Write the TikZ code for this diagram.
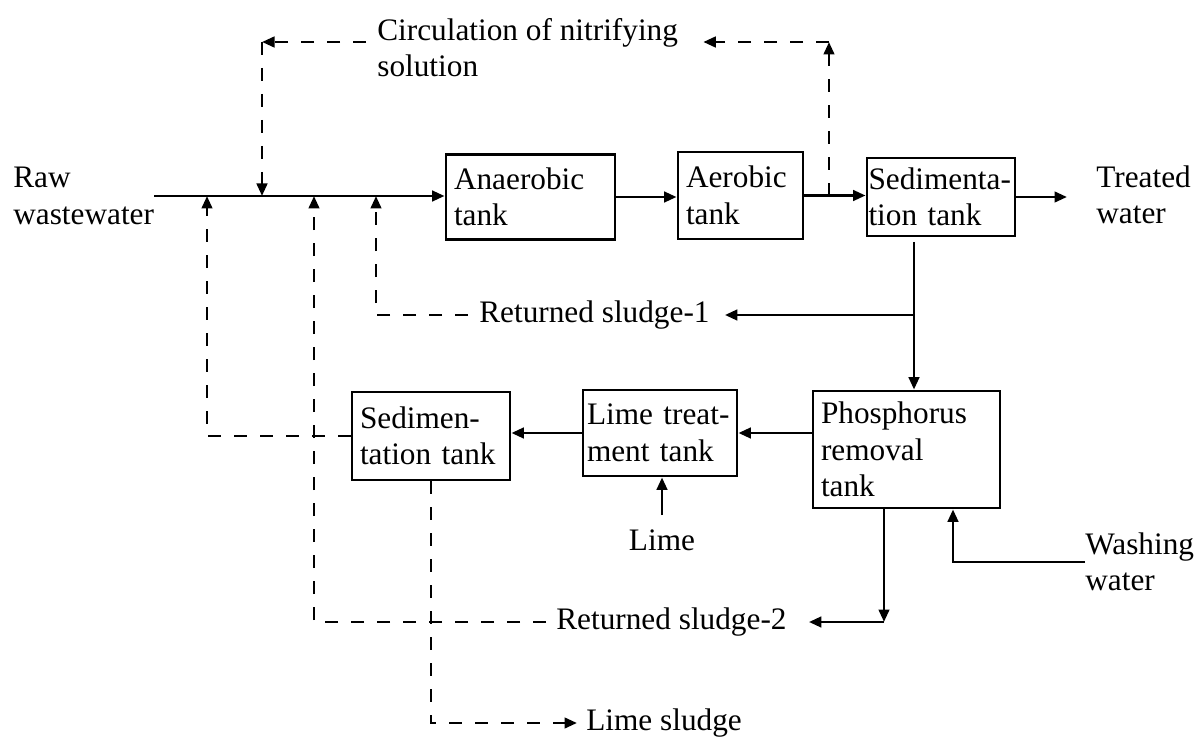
\documentclass[tikz,border=0pt]{standalone}
\usepackage{fontspec}
\setmainfont{Liberation Serif}
\usetikzlibrary{arrows.meta,calc}

\begin{document}
\begin{tikzpicture}[
    >={Triangle[length=2.5mm,width=2.1mm]},
    font=\fontsize{17.8}{20.8}\selectfont,
    % --- process tanks -----------------------------------------------
    tank/.style={draw,line width=1.6pt,align=left,inner xsep=0.16cm,
                 inner ysep=0pt,anchor=center},
    % --- connectors --------------------------------------------------
    flow/.style={line width=1.6pt,->},
    ret/.style={line width=1.6pt,dash pattern=on 2.6mm off 2.6mm},
    % --- free labels -------------------------------------------------
    lbl/.style={inner sep=0pt,align=left,anchor=west},
  ]

\useasboundingbox (0,0) rectangle (24.06,-14.84);

% =====================================================================
%  Tanks
% =====================================================================
\node[tank,text width=3.06cm,minimum height=1.70cm] (anaerobic) at (10.61,-3.94)
     {Anaerobic\\tank};
\node[tank,text width=2.18cm,minimum height=1.74cm] (aerobic) at (14.81,-3.91)
     {Aerobic\\tank};
\node[tank,text width=2.90cm,inner xsep=0.03cm,minimum height=1.56cm] (sedtop) at (18.82,-3.94)
     {Sedimenta-\\tion tank};
\node[tank,text width=3.42cm,minimum height=2.34cm] (phos) at (18.13,-8.99)
     {Phosphorus\\removal\\tank};
\node[tank,text width=2.92cm,inner xsep=0.08cm,minimum height=1.72cm] (limebox) at (13.20,-8.66)
     {Lime treat-\\ment tank};
\node[tank,text width=2.84cm,minimum height=1.76cm] (sedlow) at (8.62,-8.72)
     {Sedimen-\\tation tank};

% =====================================================================
%  Labels
% =====================================================================
\node[lbl] (raw) at (0.26,-3.92) {Raw\\wastewater};
\node[lbl] (treated) at (21.92,-3.90) {Treated\\water};
\node[lbl] (circ) at (7.54,-0.95) {Circulation of nitrifying\\solution};
\node[lbl] (rs1) at (9.58,-6.30) {Returned sludge-1};
\node[lbl] (rs2) at (11.12,-12.44) {Returned sludge-2};
\node[lbl] (wash) at (21.70,-11.24) {Washing\\water};
\node[inner sep=0pt] (limein) at (13.24,-10.80) {Lime};
\node[lbl] (ls) at (11.72,-14.46) {Lime sludge};

% ---- junctions on the inflow line -----------------------------------
\coordinate (j1) at (4.14,-3.92);
\coordinate (j2) at (5.24,-3.92);
\coordinate (j3) at (6.28,-3.92);
\coordinate (j4) at (7.52,-3.92);

% =====================================================================
%  Main line
% =====================================================================
\draw[flow] (raw.east) -- (raw.east -| anaerobic.west);
\draw[flow] (anaerobic.east) -- (anaerobic.east -| aerobic.west);
\draw[flow] (aerobic.east) -- (aerobic.east -| sedtop.west);
\draw[flow,shorten >=0.58cm] (sedtop.east) -- (sedtop.east -| treated.west);

% ---- nitrifying solution loop ---------------------------------------
\coordinate (nl) at (5.24,-0.84);
\coordinate (nr) at (16.58,-0.84);
\coordinate (ctop) at (16.58,-3.92);
\draw[ret,->,shorten <=0.22cm] (circ.west |- nl) -- (nl);
\draw[ret,->] (nl) -- (j2);
\draw[ret,->] (ctop) -- (nr);
\draw[ret,->,shorten >=0.5cm] (nr) -- (nr -| circ.east);

% =====================================================================
%  Sludge lines
% =====================================================================
\coordinate (drop) at (18.28,-4.84);
\coordinate (b1) at (18.28,-6.30);
\draw[flow] (drop) -- (drop |- phos.north);
\draw[flow,shorten >=0.3cm] (b1) -- (rs1.east);
\draw[ret,->,shorten <=0.22cm] (rs1.west) -- (rs1.west -| j4) -- (j4);

% ---- phosphorus removal / lime treatment ----------------------------
\draw[flow] (phos.west |- limebox.east) -- (limebox.east);
\draw[flow] (limebox.west) -- (limebox.west -| sedlow.east);
\draw[flow,shorten <=0.28cm] (limein.north) -- (limein.north |- limebox.south);

\coordinate (pc) at (17.68,-12.44);
\draw[flow] (phos.south -| pc) -- (pc);
\draw[flow,shorten >=0.44cm] (pc) -- (rs2.east);
\draw[ret,->,shorten <=0.2cm] (rs2.west) -- (rs2.west -| j3) -- (j3);

\coordinate (wc) at (19.06,-11.24);
\draw[flow] (wash.west) -- (wc) -- (wc |- phos.south);

% ---- lower sedimentation tank ---------------------------------------
\draw[ret,->] (sedlow.west) -- (sedlow.west -| j1) -- (j1);
\coordinate (lsc) at (8.62,-14.46);
\draw[ret,->,shorten >=0.18cm] (sedlow.south) -- (lsc) -- (ls.west);

\end{tikzpicture}
\end{document}
